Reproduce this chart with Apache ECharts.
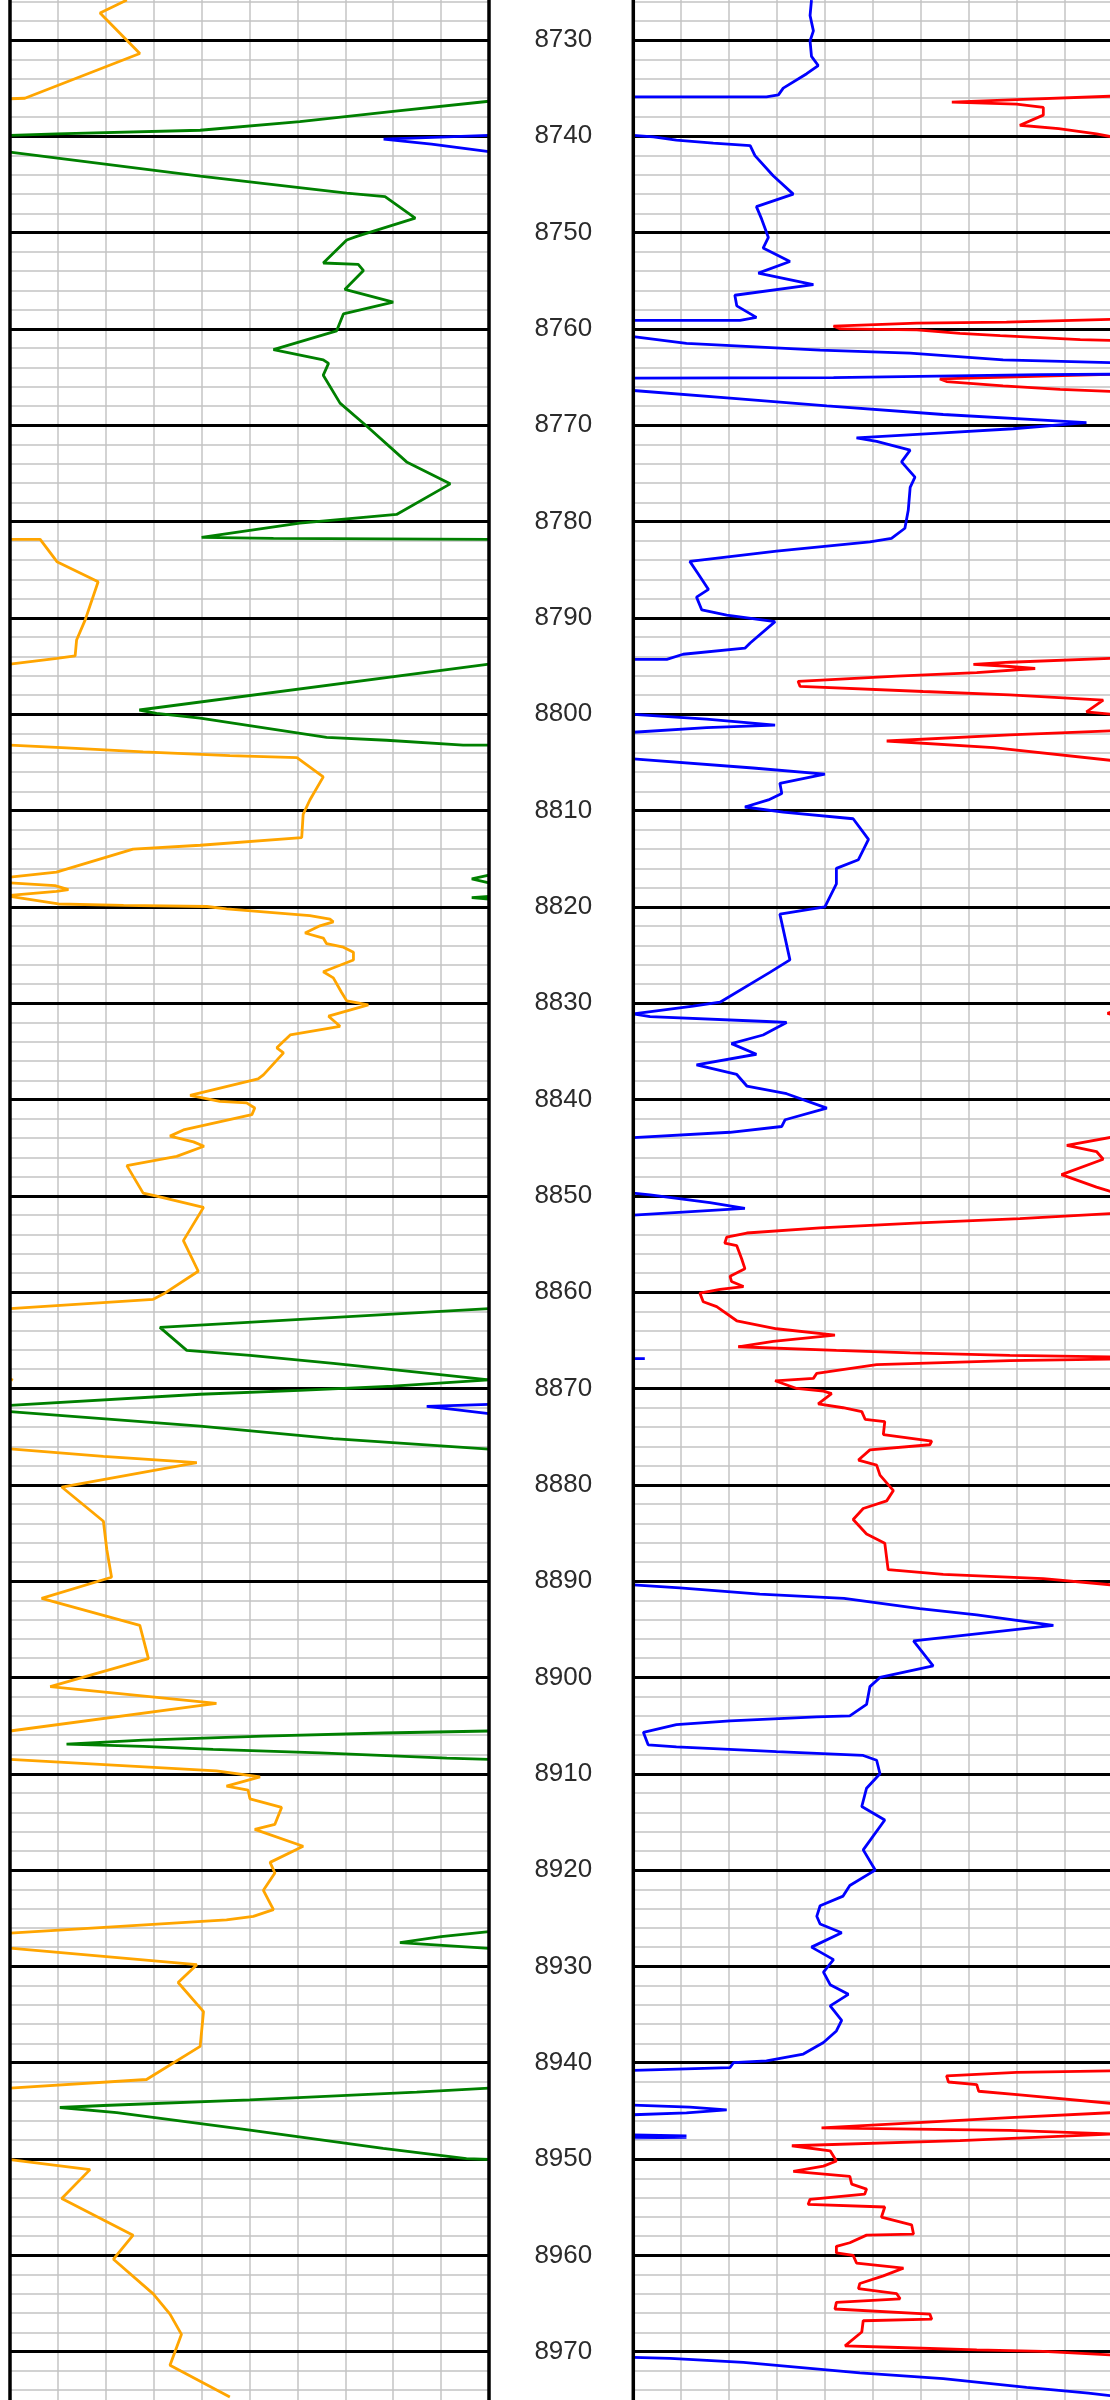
<!DOCTYPE html>
<html>
<head>
<meta charset="utf-8">
<title>Well log</title>
<script src="https://cdn.jsdelivr.net/npm/echarts@6/dist/echarts.min.js"></script>
<style>
  html, body { margin: 0; padding: 0; background: #fff; }
  #chart { width: 1110px; height: 2400px; }
</style>
</head>
<body>
<div id="chart"></div>
<script>
// depth range of the axis (ft) - the page only shows about 8725.9 .. 8975
const depthMin = 8720
const depthMax = 8980
const depthStep = 10

// every curve is a list of segments, each segment is [value(0-100 of track), depth]
// left track
const orangeLeft = [
  [[24.4,8725.85],[18.8,8727.2],[27.1,8731.4],[3.1,8736.05],[0,8736.1]],
  [[0,8781.84],[6.3,8781.84],[9.8,8784.16],[18.4,8786.24],[15.7,8790.2],[13.9,8792.3],[13.6,8793.95],[9.8,8794.2],[0,8794.8]],
  [[0,8803.2],[11.8,8803.5],[27.8,8803.9],[45.9,8804.3],[59.9,8804.5],[65.4,8806.5],[62.6,8808.9],[61.2,8810.4],[60.9,8812.8],[39.7,8813.6],[25.7,8814.0],[9.7,8816.4],[0,8816.9]],
  [[0,8817.5],[9.4,8817.8],[12.2,8818.2],[9.7,8818.4],[0,8818.8]],
  [[0,8818.9],[10.1,8819.7],[23.7,8819.85],[41.1,8819.96],[45.2,8820.2],[62.6,8820.9],[66.8,8821.28],[67.5,8821.55],[64.7,8821.97],[61.6,8822.71],[65.4,8823.24],[66.1,8823.82],[69.6,8824.19],[71.7,8824.72],[71.7,8825.52],[65.4,8826.74],[67.5,8827.37],[69.2,8828.86],[70.3,8829.76],[74.8,8830.18],[66.5,8831.35],[68.9,8832.4],[58.5,8833.3],[55.7,8834.63],[57.1,8835.16],[52.9,8837.44],[51.8,8837.86],[37.6,8839.56],[43.8,8840.19],[49.4,8840.35],[51.1,8840.88],[50.5,8841.57],[36.2,8843.16],[33.4,8843.8],[38.3,8844.4],[40.5,8844.85],[34.8,8845.9],[24.4,8846.86],[27.8,8849.72],[30.6,8850.04],[40.4,8851.2],[36.2,8854.65],[39.3,8857.83],[32.0,8860.2],[29.9,8860.74],[0,8861.7]],
  [[0,8869.0],[0.6,8869.15]],
  [[0,8876.26],[19.5,8877.05],[39,8877.69],[10.8,8880.23],[19.5,8883.78],[20.2,8886.69],[21.2,8889.6],[6.6,8891.8],[27.1,8894.6],[28.9,8898.04],[8.4,8900.95],[43.1,8902.7],[0,8905.56]],
  [[0,8908.5],[43.1,8909.69],[52.2,8910.33],[45.2,8911.28],[49.7,8911.7],[50.1,8912.6],[56.7,8913.5],[55.3,8915.25],[51.1,8915.78],[61.2,8917.53],[54.3,8919.2],[55.3,8920.3],[52.9,8922.1],[55.0,8924.1],[50.8,8924.8],[45.2,8925.16],[0,8926.54]],
  [[0,8928.1],[39,8929.82],[35.1,8931.67],[40.4,8934.69],[39.7,8938.3],[28.5,8941.74],[0,8942.64]],
  [[0,8950.05],[16.7,8951.1],[10.8,8954.1],[25.7,8957.9],[21.6,8960.4],[29.9,8964.0],[33.4,8966.1],[35.8,8968.2],[33.4,8971.4],[45.9,8974.7]]
]

const greenLeft = [
  [[100,8736.36],[80,8737.42],[60.5,8738.48],[39.7,8739.37],[9.7,8739.75],[0,8739.9]],
  [[0,8741.65],[39.7,8744.14],[70.3,8745.89],[78.3,8746.26],[84.6,8748.49],[72.4,8750.39],[70.3,8750.76],[65.4,8753.15],[72.7,8753.3],[73.8,8753.94],[69.9,8755.9],[80.0,8757.22],[69.6,8758.44],[68.2,8760.19],[55.0,8762.15],[65.4,8763.2],[66.5,8763.58],[65.4,8764.8],[68.9,8767.7],[74.5,8770.1],[82.8,8773.8],[91.9,8776.08],[80.7,8779.26],[60.5,8780.16],[40.0,8781.64],[55.0,8781.75],[100,8781.85]],
  [[100,8794.8],[27.0,8799.56],[30.6,8799.9],[39.7,8800.4],[66.1,8802.4],[78.6,8802.7],[94.6,8803.2],[100,8803.2]],
  [[100,8816.7],[96.4,8817.1],[100,8817.5]],
  [[100,8818.9],[96.4,8819.05],[100,8819.2]],
  [[100,8861.7],[31.3,8863.66],[36.9,8866.04],[50.1,8866.57],[67.5,8867.4],[84.9,8868.3],[100,8869.1]],
  [[100,8869.1],[80,8869.75],[60.5,8870.2],[39.7,8870.6],[0,8871.75]],
  [[0,8872.4],[39.7,8873.9],[67.5,8875.2],[100,8876.3]],
  [[100,8905.56],[78,8905.77],[52.9,8906.09],[27.8,8906.51],[11.8,8906.93],[27.8,8907.15],[42.4,8907.47],[64.7,8907.84],[91.2,8908.37],[100,8908.5]],
  [[100,8926.38],[90,8926.9],[81.4,8927.54],[100,8928.13]],
  [[100,8942.64],[84.9,8943.06],[50.1,8943.86],[19.5,8944.44],[10.4,8944.65],[22.3,8945.18],[50.1,8947.0],[77.9,8948.9],[95.3,8949.95],[100,8950.05]]
]

const blueLeft = [
  [[100,8739.9],[78,8740.3],[88,8740.8],[100,8741.6]],
  [[100,8871.65],[87,8871.86],[93,8872.2],[100,8872.6]]
]

// right track
const blueRight = [
  [[37.2,8725.87],[36.9,8727.46],[37.6,8729.05],[36.9,8730.1],[37.2,8731.7],[38.6,8732.65],[36.2,8733.5],[31.3,8735.0],[30.3,8735.7],[27.8,8735.9],[0,8735.9]],
  [[0,8739.9],[4.2,8740.05],[9.0,8740.4],[16.7,8740.7],[24.4,8740.96],[25.4,8742.0],[29.2,8744.1],[33.4,8746.0],[25.7,8747.3],[26.8,8748.6],[28.2,8750.5],[27.1,8751.6],[32.7,8753.0],[26.1,8754.2],[37.6,8755.4],[21.2,8756.5],[21.6,8757.6],[25.7,8758.8],[22.3,8759.1],[0,8759.1]],
  [[0,8760.8],[11.1,8761.5],[39,8762.2],[57.8,8762.5],[77.2,8763.2],[100,8763.5]],
  [[100,8764.7],[85,8764.75],[41.8,8765.06],[0,8765.1]],
  [[0,8766.39],[20.2,8767.18],[40.4,8767.98],[64.7,8768.88],[85.6,8769.46],[94.6,8769.73],[79.3,8770.36],[64.7,8770.78],[46.6,8771.31],[50.8,8771.68],[57.8,8772.58],[56.0,8773.8],[58.8,8775.39],[57.8,8776.45],[57.4,8778.83],[56.7,8780.69],[53.9,8781.75],[49.4,8782.1],[29.9,8783.07],[11.8,8784.13],[13.6,8785.46],[15.7,8787.04],[13.2,8787.84],[14.3,8789.17],[19.5,8789.7],[25.7,8790.12],[29.6,8790.38],[24.4,8792.6],[23.3,8793.14],[10.4,8793.77],[7.0,8794.3],[0,8794.3]],
  [[0,8800.02],[15.3,8800.5],[29.6,8801.13],[15.3,8801.4],[0,8801.87]],
  [[0,8804.63],[25,8805.58],[40,8806.22],[30.6,8807.17],[31,8808.23],[28.2,8808.9],[23.3,8809.63],[31.3,8810.16],[45.9,8810.85],[49.1,8813.0],[47,8815.1],[42.4,8816.0],[42.4,8817.6],[40,8820.0],[30.6,8820.75],[32.7,8825.5],[28.5,8826.8],[18.1,8829.9],[12.5,8830.3],[0,8831.1],[3.5,8831.4],[27.8,8831.9],[32,8832.0],[27.1,8833.3],[20.5,8834.2],[25.7,8835.3],[13.2,8836.4],[21.6,8837.4],[23.7,8838.6],[32,8839.4],[40.4,8840.9],[31.7,8842.1],[31,8842.8],[20.2,8843.4],[0,8843.95]],
  [[0,8849.72],[3.5,8849.9],[16,8850.7],[23.3,8851.31],[0,8852.0]],
  [[0,8866.9],[2.4,8866.9]],
  [[0,8890.4],[9.7,8890.7],[26.4,8891.35],[44,8891.8],[59.8,8892.85],[71.7,8893.5],[87.7,8894.6],[58.5,8896.2],[62.6,8898.8],[51.5,8900],[49.4,8900.95],[48.7,8902.8],[45.2,8904.0],[38.3,8904.1],[20.2,8904.5],[9,8904.9],[2.1,8905.7],[3.1,8907.0],[9.0,8907.2],[29.9,8907.7],[48,8908.1],[50.8,8908.6],[51.5,8910],[48.7,8911.5],[47.7,8913.4],[52.5,8914.8],[48,8917.9],[50.5,8920],[45.2,8921.6],[43.8,8922.7],[39,8923.7],[38.3,8924.8],[39,8925.6],[43.5,8926.5],[37.2,8928.0],[41.8,8929.3],[39.7,8930.6],[41.1,8931.9],[44.9,8932.9],[41.1,8934.1],[43.5,8935.6],[42.4,8936.7],[39.7,8937.9],[35.5,8939.1],[27.8,8939.8],[20.9,8940.0],[20.2,8940.5],[0,8940.8]],
  [[0,8944.4],[11.8,8944.6],[19.5,8944.9],[11.1,8945.2],[0,8945.4]],
  [[0,8947.5],[11.1,8947.6],[0,8947.7],[11.1,8947.75],[0,8947.8]],
  [[0,8970.6],[7.7,8970.7],[23,8971.1],[47.3,8972.2],[64.7,8972.8],[82.1,8973.7],[95,8974.3],[100,8974.6]]
]

const redRight = [
  [[100,8735.83],[80,8736.2],[66.5,8736.46],[80,8736.65],[85.6,8737.0],[85.6,8737.8],[80.7,8738.85],[88.8,8739.2],[96.7,8739.75],[100,8740.06]],
  [[100,8759.0],[77.9,8759.3],[59.2,8759.4],[41.8,8759.7],[43.2,8760.0],[59.2,8760.1],[68.2,8760.45],[76.6,8760.7],[93.3,8761.1],[100,8761.2]],
  [[100,8764.7],[64,8765.19],[65.4,8765.46],[77.2,8765.9],[89.1,8766.27],[100,8766.5]],
  [[100,8794.19],[78.6,8794.6],[71,8794.83],[77.2,8794.99],[83.9,8795.25],[71.7,8795.67],[55,8796.05],[34.4,8796.58],[34.8,8797.1],[60.5,8797.64],[78.6,8798.0],[98.1,8798.54],[94.6,8799.76],[100,8800.0]],
  [[100,8801.72],[78.6,8802.14],[52.9,8802.78],[75.2,8803.47],[100,8804.8]],
  [[100,8830.9],[99,8831.05],[100,8831.2]],
  [[100,8843.9],[90.5,8844.75],[96.7,8845.4],[98.1,8846.2],[89.4,8847.8],[96.7,8849.1],[100,8849.6]],
  [[100,8851.84],[80.7,8852.37],[59.8,8852.8],[39,8853.33],[23.7,8853.86],[19.5,8854.28],[19.1,8854.92],[21.6,8855.18],[22.6,8856.5],[23.3,8857.56],[20.2,8858.36],[20.5,8858.89],[23,8859.42],[18.1,8859.7],[13.9,8860.1],[14.6,8861.0],[17.4,8861.5],[21.6,8862.97],[29.9,8863.8],[42.1,8864.45],[29.2,8865.1],[21.9,8865.67],[42.4,8866.04],[57.8,8866.3],[78.6,8866.57],[100,8866.73]],
  [[100,8866.94],[78.6,8867.1],[50.8,8867.52],[38.3,8868.42],[37.6,8868.95],[29.6,8869.2],[34.1,8870.0],[39.7,8870.27],[41.4,8870.54],[38.6,8871.6],[43.8,8872.0],[47.7,8872.4],[48.4,8873.2],[52.5,8873.45],[52.2,8874.78],[62.3,8875.47],[61.9,8875.84],[49.4,8876.37],[47,8877.43],[50.8,8877.96],[51.5,8879.0],[54.3,8880.6],[52.9,8881.67],[48,8882.46],[45.9,8883.6],[48.7,8885.1],[52.5,8886.06],[53.2,8888.8],[64.7,8889.3],[85.6,8889.75],[100,8890.4]],
  [[100,8940.84],[80,8941.0],[65.4,8941.37],[65.8,8942.0],[71.7,8942.27],[72.1,8942.96],[80.7,8943.33],[100,8944.23]],
  [[100,8945.18],[78.6,8945.7],[39.3,8946.77],[78.6,8947.03],[100,8947.4],[68.2,8948.09],[33.1,8948.62],[41.1,8949.15],[42.4,8950.2],[39.7,8950.74],[33.4,8951.27],[45.2,8951.8],[45.6,8952.6],[48.7,8953.12],[48.3,8953.65],[36.9,8954.18],[36.5,8954.71],[52.5,8954.98],[51.8,8956.04],[58.1,8956.83],[58.5,8957.79],[48.7,8957.9],[45.2,8958.69],[42.4,8959.06],[42.4,8959.75],[45.9,8960.0],[46.6,8960.8],[56.4,8961.33],[52.2,8962.13],[47.3,8962.92],[47,8963.45],[55,8963.98],[55.7,8964.51],[42.4,8964.88],[42.1,8965.57],[61.9,8966.1],[62.3,8966.63],[48,8966.79],[47.7,8967.96],[44.2,8969.39],[53.6,8969.54],[71.7,8969.81],[85.6,8969.97],[100,8970.34]]
]

const pxPerFt = 9.632
const y8730 = 40 // pixel row of the 8730 line

const chart = echarts.init(document.getElementById('chart'), null, { renderer: 'canvas' })

function track(left) {
  return {
    left: left,
    width: 479,
    top: y8730 - (8730 - depthMin) * pxPerFt,
    height: (depthMax - depthMin) * pxPerFt,
    containLabel: false,
    outerBoundsMode: 'none',
    show: true,
    z: 5, // keep the black frame on top of the grey grid
    borderColor: '#000',
    borderWidth: 3.5,
    backgroundColor: 'transparent'
  }
}

function xAx(i) {
  return {
    type: 'value', gridIndex: i, min: 0, max: 100, interval: 10, z: 0,
    axisLine: { show: false }, axisTick: { show: false }, axisLabel: { show: false },
    splitLine: { show: true, lineStyle: { color: '#c4c4c4', width: 1.5 } }
  }
}

function yAx(i, labels) {
  return {
    type: 'value', gridIndex: i, inverse: true, min: depthMin, max: depthMax, interval: depthStep, z: 1,
    axisLine: { show: false }, axisTick: { show: false },
    axisLabel: {
      show: labels, margin: 70, align: 'center', color: '#2b2b2b',
      fontFamily: 'Liberation Sans', fontSize: 26,
      formatter: v => String(v)
    },
    minorTick: { show: false, splitNumber: 5 },
    splitLine: { show: true, lineStyle: { color: '#000', width: 3 } },
    minorSplitLine: { show: true, lineStyle: { color: '#c4c4c4', width: 1.5 } }
  }
}

function curve(segments, idx, color) {
  return segments.map(s => ({
    type: 'line', xAxisIndex: idx, yAxisIndex: idx, data: s,
    symbol: 'none', silent: true, clip: true,
    lineStyle: { color: color, width: 2.8 }
  }))
}

chart.setOption({
  animation: false,
  backgroundColor: '#fff',
  grid: [track(10), track(633.3)],
  xAxis: [xAx(0), xAx(1)],
  yAxis: [yAx(0, false), yAx(1, true)],
  series: [].concat(
    curve(orangeLeft, 0, '#ffa500'),
    curve(greenLeft, 0, '#008000'),
    curve(blueLeft, 0, '#0000ff'),
    curve(redRight, 1, '#ff0000'),
    curve(blueRight, 1, '#0000ff')
  )
})
</script>
</body>
</html>
